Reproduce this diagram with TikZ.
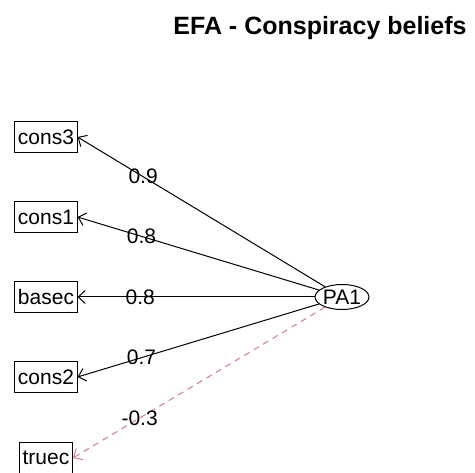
\documentclass[tikz,border=0pt]{standalone}
\usepackage{fontspec}
\setmainfont{Liberation Sans}
\usepackage{xcolor}
\usepackage{tikz}
\usetikzlibrary{arrows.meta}
\usetikzlibrary{shapes.geometric}
\usetikzlibrary{positioning}

\definecolor{negred}{RGB}{214,120,140}

\begin{document}
\begin{tikzpicture}[x=1pt,y=1pt,->,>={Straight Barb[length=7pt,width=13pt]},line width=1pt,node distance=80pt]
 				 \tikzstyle{item}=[draw, rectangle, inner xsep=3pt, minimum height=31pt, font=\fontsize{21}{25}\selectfont]
 				 \tikzstyle{factor}=[draw, ellipse, inner sep=0pt, minimum width=46pt, minimum height=25pt, font=\fontsize{21}{25}\selectfont]
 				 \tikzstyle{load}=[pos=0.735, inner sep=0pt, font=\fontsize{21}{25}\selectfont, text=black]
 				 \tikzstyle{negative}=[dashed, negred, dash pattern=on 6pt off 5pt]
 					 \useasboundingbox (0,0) rectangle (475,-473);
 					 \node[font=\fontsize{25}{30}\selectfont\bfseries] (title) at (320,-28) {EFA - Conspiracy beliefs};
 					 \node[item] 			(cons3) at (46,-137) {cons3};
  					 \node[item]         (cons1) [below of=cons3] {cons1};
  					 \node[item]         (basec) [below of=cons1] {basec};
  					 \node[item] 		  (cons2) [below of=basec] {cons2};
  					 \node[item]		  (truec) [below of=cons2, node distance=81pt] {truec};
  					 \node[factor]		  (PA1) [right of=basec, node distance=296pt] {PA1};
  					
 					  \path
 					  			(PA1) edge node[load] {0.9} (cons3.east)
 					 			(PA1) edge node[load] {0.8} (cons1.east)
 					 			(PA1) edge node[load] {0.8} (basec.east)
 					 			(PA1) edge node[load] {0.7} (cons2.east)
 					 			(PA1) edge[negative] node[load] {-0.3} (truec.east);
				\end{tikzpicture}
\end{document}
